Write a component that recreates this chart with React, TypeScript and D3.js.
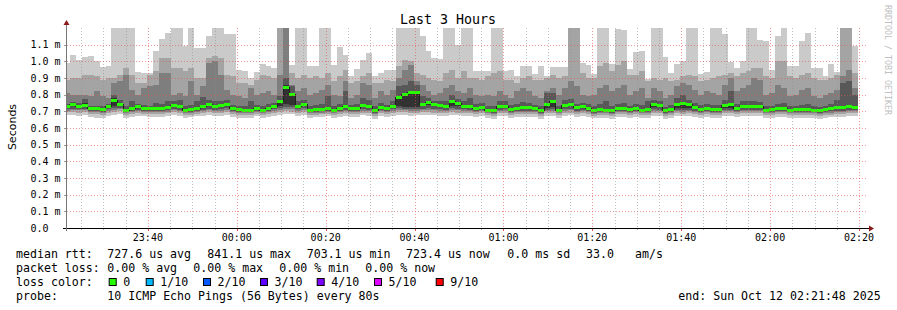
import React from 'react';
import * as d3 from 'd3';

// ---- time range (UTC used so the sandbox timezone does not matter) ----
const START = Date.UTC(2025, 9, 11, 23, 21, 48);
const END = Date.UTC(2025, 9, 12, 2, 21, 48);
const STEP_MS = 80000;
const FIRST_BAR = START - 40000;

// ---- data, in milliseconds ----
const MEDIAN = [.728,.740,.732,.738,.716,.716,.712,.732,.768,.744,.708,.720,.728,.718,.716,.716,.718,.724,.738,.728,
.708,.714,.720,.728,.744,.728,.734,.742,.718,.714,.708,.708,.720,.708,.720,.732,.760,.841,.802,.732,
.740,.708,.714,.714,.718,.708,.720,.728,.720,.720,.738,.728,.706,.726,.720,.732,.784,.800,.812,.812,
.740,.756,.740,.734,.728,.762,.750,.732,.732,.720,.726,.708,.704,.728,.732,.714,.716,.722,.722,.716,
.704,.744,.760,.708,.734,.742,.722,.728,.720,.706,.712,.708,.704,.716,.718,.710,.716,.708,.714,.740,
.738,.704,.714,.740,.750,.744,.726,.714,.718,.714,.714,.734,.742,.720,.728,.732,.728,.728,.708,.712,
.718,.718,.708,.710,.714,.714,.708,.704,.710,.716,.726,.726,.732,.723];

const PING10 = [.99,1.04,1.01,1.025,1.03,1.005,.965,.97,1.2,1.2,1.2,1.2,.935,.93,.93,1.065,1.135,1.17,1.2,1.2,
1.09,1.2,1.08,1.08,1.15,1.2,1.2,1.165,1.165,.95,.94,.90,.935,.985,.97,.96,1.2,1.2,.98,1.2,
1.2,.975,.975,1.2,1.2,.98,1.085,1.04,.915,.955,1.01,1.05,.915,.93,.95,.95,1.2,1.2,1.2,1.2,
1.15,1.06,1.02,1.015,1.2,1.2,1.1,1.2,1.2,.945,.94,.945,1.2,1.2,.945,.95,.915,.97,.97,.925,
.975,.91,.965,.965,.965,1.2,1.2,.99,.98,.925,1.2,1.2,.985,1.195,1.19,.955,1.055,1.06,.895,1.2,
1.2,1.025,.93,.985,1.0,1.2,1.2,.925,.935,1.2,1.2,1.165,.995,.96,1.0,1.2,1.2,1.13,1.12,.95,
1.15,1.2,.975,.975,1.12,1.17,.96,.96,.915,.985,.935,1.2,1.2,1.095];

const PING9 = [.89,.90,.90,.92,.92,.91,.89,.90,.90,.92,.96,.92,.87,.87,.92,.94,1.02,1.02,.96,.96,
.94,.96,.90,.90,1.02,1.03,1.02,.92,.91,.87,.87,.86,.89,.92,.91,.90,1.2,1.2,.93,.90,
.92,.90,.91,.90,.93,.88,.91,.95,.87,.88,.91,.93,.87,.87,.89,.88,.97,1.01,1.00,.93,
.92,.90,.89,.88,.93,.95,.90,.94,.90,.90,.89,.91,.93,.94,.89,.89,.87,.90,.91,.89,
.89,.90,.92,.90,.91,1.2,1.2,.93,.90,.90,.97,.99,.94,.98,1.00,.92,.92,.94,.88,.90,
.89,.90,.88,.89,.91,.92,.91,.88,.89,.90,.91,.92,.93,.91,.93,.94,.96,.96,.91,.90,
1.00,1.00,.91,.90,.92,.93,.90,.89,.89,.90,.92,1.2,1.2,.93];

const PING8 = [.81,.80,.80,.80,.79,.82,.79,.78,.87,.88,.92,.83,.80,.84,.85,.86,.93,.93,.80,.81,
.79,.88,.80,.85,.99,1.00,.92,.83,.80,.79,.78,.84,.80,.81,.82,.80,.92,1.2,.86,.82,
.84,.80,.81,.83,.86,.80,.79,.88,.78,.80,.87,.86,.78,.82,.80,.83,.90,.95,.98,.88,
.86,.82,.80,.81,.84,.86,.82,.81,.84,.80,.79,.80,.79,.82,.80,.78,.82,.84,.82,.79,
.78,.82,.84,.80,.84,.88,.85,.80,.79,.80,.84,.86,.82,.84,.86,.80,.82,.84,.78,.84,
.82,.78,.80,.85,.87,.86,.83,.80,.82,.81,.80,.86,.90,.82,.84,.86,.90,.89,.80,.81,
.86,.84,.79,.80,.83,.84,.79,.78,.80,.81,.83,.91,.95,.84];

const PING7 = [.745,.755,.750,.775,.735,.735,.730,.745,.800,.770,.735,.760,.745,.740,.735,.750,.745,.765,.760,.770,
.730,.740,.760,.785,.770,.760,.765,.770,.740,.735,.730,.760,.740,.730,.745,.750,.790,.900,.850,.760,
.770,.730,.740,.745,.790,.730,.745,.820,.740,.745,.780,.770,.730,.750,.740,.760,.850,.860,.880,.860,
.790,.780,.760,.760,.760,.800,.775,.760,.780,.745,.750,.735,.730,.760,.760,.740,.745,.755,.750,.740,
.730,.810,.810,.735,.770,.775,.745,.750,.745,.730,.745,.760,.735,.745,.750,.735,.745,.740,.760,.770,
.765,.725,.740,.780,.800,.770,.750,.740,.745,.740,.740,.770,.820,.745,.760,.760,.760,.755,.730,.735,
.745,.750,.730,.735,.740,.745,.730,.725,.735,.745,.770,.870,.880,.800];

const PING6 = [.734,.746,.738,.748,.722,.722,.718,.738,.778,.752,.714,.728,.734,.724,.722,.722,.724,.732,.745,.736,
.714,.720,.728,.738,.752,.734,.742,.750,.724,.720,.714,.716,.726,.714,.726,.738,.768,.856,.810,.740,
.748,.714,.720,.720,.726,.714,.726,.736,.726,.726,.746,.734,.712,.732,.726,.738,.790,.806,.818,.818,
.748,.764,.746,.740,.734,.770,.756,.738,.738,.726,.732,.714,.710,.734,.738,.720,.722,.728,.728,.722,
.710,.752,.768,.714,.740,.750,.728,.734,.726,.712,.718,.714,.710,.722,.724,.716,.722,.714,.720,.748,
.744,.710,.720,.746,.758,.750,.732,.720,.724,.720,.720,.740,.750,.726,.734,.738,.734,.734,.714,.718,
.724,.724,.714,.716,.720,.720,.714,.710,.716,.722,.732,.734,.740,.730];

const PING5 = [.722,.732,.726,.730,.710,.710,.706,.724,.735,.736,.702,.714,.722,.712,.710,.710,.712,.716,.728,.720,
.702,.708,.714,.720,.730,.720,.726,.732,.712,.708,.702,.702,.714,.702,.714,.724,.735,.745,.740,.724,
.732,.702,.708,.708,.712,.702,.714,.720,.714,.714,.728,.720,.700,.718,.714,.724,.735,.726,.724,.728,
.730,.736,.730,.726,.720,.735,.730,.724,.724,.714,.718,.702,.698,.720,.724,.708,.710,.714,.714,.710,
.698,.722,.726,.702,.724,.730,.714,.720,.714,.700,.706,.702,.698,.710,.712,.704,.710,.702,.706,.726,
.724,.698,.708,.722,.718,.722,.716,.708,.712,.708,.708,.722,.722,.714,.720,.722,.720,.720,.702,.706,
.712,.712,.702,.704,.708,.708,.702,.698,.704,.710,.716,.716,.720,.716];

const PING4 = [.712,.716,.714,.716,.702,.703,.698,.712,.720,.722,.695,.704,.710,.704,.702,.701,.703,.706,.716,.710,
.694,.699,.705,.709,.716,.709,.714,.718,.703,.699,.694,.695,.704,.694,.704,.712,.720,.728,.724,.712,
.718,.694,.699,.700,.703,.694,.704,.708,.704,.703,.714,.709,.692,.707,.704,.712,.720,.714,.712,.714,
.716,.720,.716,.713,.708,.720,.716,.712,.711,.704,.707,.694,.690,.708,.712,.699,.701,.704,.704,.701,
.690,.710,.714,.694,.712,.716,.704,.708,.704,.692,.697,.694,.690,.701,.703,.696,.701,.694,.697,.712,
.711,.690,.699,.710,.707,.710,.705,.699,.703,.699,.699,.710,.710,.704,.708,.710,.708,.708,.694,.697,
.702,.702,.694,.695,.699,.699,.694,.690,.695,.700,.705,.705,.708,.708];

const PING3 = [.705,.708,.706,.708,.696,.697,.692,.704,.710,.712,.689,.697,.702,.697,.696,.694,.697,.699,.707,.703,
.688,.692,.698,.701,.707,.701,.705,.708,.697,.692,.688,.689,.697,.688,.697,.704,.710,.716,.712,.704,
.708,.688,.692,.693,.697,.688,.697,.700,.697,.696,.705,.701,.686,.700,.697,.704,.710,.706,.704,.705,
.706,.709,.706,.704,.700,.709,.706,.703,.703,.697,.700,.688,.684,.700,.703,.692,.694,.697,.697,.694,
.684,.701,.704,.688,.703,.706,.697,.700,.697,.686,.691,.688,.684,.694,.696,.690,.694,.688,.691,.703,
.702,.684,.692,.701,.699,.701,.697,.692,.696,.692,.692,.701,.701,.697,.700,.701,.700,.700,.688,.691,
.695,.695,.688,.689,.692,.692,.688,.684,.689,.693,.697,.697,.700,.700];

const PING2 = [.694,.696,.692,.697,.686,.685,.680,.692,.697,.700,.678,.686,.690,.686,.684,.683,.686,.688,.695,.690,
.676,.680,.687,.689,.694,.689,.692,.695,.685,.680,.676,.678,.686,.677,.686,.692,.698,.702,.699,.692,
.695,.677,.680,.682,.686,.676,.685,.688,.686,.684,.693,.689,.674,.688,.685,.692,.697,.694,.692,.693,
.694,.697,.693,.692,.688,.696,.693,.691,.691,.685,.688,.676,.672,.688,.690,.680,.682,.685,.685,.682,
.672,.689,.691,.676,.690,.693,.685,.688,.685,.674,.679,.676,.672,.682,.684,.678,.682,.676,.679,.690,
.689,.672,.680,.688,.687,.688,.685,.680,.684,.680,.680,.688,.688,.685,.688,.689,.688,.688,.676,.679,
.683,.683,.676,.677,.680,.680,.676,.672,.677,.681,.685,.685,.688,.688];

const PING1 = [.676,.680,.672,.678,.668,.662,.660,.674,.680,.682,.662,.668,.672,.670,.664,.666,.668,.670,.678,.672,
.660,.664,.670,.672,.676,.670,.674,.678,.668,.662,.658,.662,.670,.660,.668,.674,.680,.684,.682,.674,
.678,.660,.664,.666,.670,.658,.668,.672,.668,.666,.676,.672,.656,.670,.668,.674,.680,.676,.674,.676,
.678,.680,.676,.674,.670,.678,.676,.674,.674,.668,.670,.660,.656,.670,.672,.662,.664,.668,.668,.664,
.654,.672,.674,.660,.672,.676,.668,.670,.668,.658,.662,.660,.656,.664,.666,.660,.664,.658,.662,.672,
.672,.656,.662,.670,.670,.670,.668,.662,.666,.662,.662,.670,.670,.668,.670,.672,.670,.670,.658,.662,
.666,.666,.658,.660,.662,.662,.658,.654,.660,.664,.668,.668,.670,.670];

const PINGS = [PING1, PING2, PING3, PING4, PING5, PING6, PING7, PING8, PING9, PING10];
const SMOKE_COLORS = ['#cacaca', '#a4a4a4', '#7e7e7e', '#585858', '#323232'];

const Y_TICKS = [0, 0.1, 0.2, 0.3, 0.4, 0.5, 0.6, 0.7, 0.8, 0.9, 1.0, 1.1];
const Y_MAX = 1.2;

const TITLE = 'Last 3 Hours';
const Y_LABEL = 'Seconds';
const WATERMARK = 'RRDTOOL / TOBI OETIKER';

const MEDIAN_ROW = ['median rtt:', '727.6 us avg', '841.1 us max', '703.1 us min', '723.4 us now', '0.0 ms sd', '33.0', 'am/s'];
const MEDIAN_X = [16, 107.3, 207.3, 306.7, 406, 507.3, 586, 635];
const LOSS_ROW = ['packet loss:', '0.00 % avg', '0.00 % max', '0.00 % min', '0.00 % now'];
const LOSS_X = [16, 107.3, 193.3, 279.3, 365.3];
const LOSS_LABELS = ['0', '1/10', '2/10', '3/10', '4/10', '5/10', '9/10'];
const LOSS_COLORS = ['#26ff00', '#00b8ff', '#0059ff', '#5e00ff', '#7e00ff', '#dd00ff', '#ff0000'];
const SWATCH_X = [108.7, 145.7, 203, 260, 316.7, 374, 435.7];
const PROBE_TEXT = '10 ICMP Echo Pings (56 Bytes) every 80s';
const END_TEXT = 'end: Sun Oct 12 02:21:48 2025';

const W = 897, H = 310;
const L = 67, R = 867, T = 28, B = 228;
const MONO = '"DejaVu Sans Mono", monospace';

export default function App() {
  const x = d3.scaleUtc().domain([START, END]).range([L, R]);
  const y = d3.scaleLinear().domain([0, Y_MAX]).range([B, T]);
  const n = MEDIAN.length;
  const idx = d3.range(n + 1);
  const at = (arr: number[], i: number) => arr[Math.min(i, n - 1)];
  const bx = (i: number) => x(FIRST_BAR + i * STEP_MS);

  const bands = SMOKE_COLORS.map((c, k) => {
    const lo = PINGS[k], hi = PINGS[9 - k];
    const d = d3.area<number>()
      .x(bx)
      .y0(i => y(at(lo, i)))
      .y1(i => y(at(hi, i)))
      .curve(d3.curveStepAfter)(idx) as string;
    return <path key={k} d={d} fill={c} shapeRendering="crispEdges" />;
  });

  const medLine = d3.line<number>().x(bx).y(i => y(at(MEDIAN, i))).curve(d3.curveStepAfter)(idx) as string;
  const medBand = d3.area<number>().x(bx)
    .y0(i => y(at(MEDIAN, i)) + 1.5)
    .y1(i => y(at(MEDIAN, i)) - 1.5)
    .curve(d3.curveStepAfter)(idx) as string;

  const major = d3.utcMinute.every(20)!.range(new Date(START), new Date(END));
  const minor = d3.utcMinute.every(5)!.range(new Date(START), new Date(END));
  const fmt = d3.utcFormat('%H:%M');
  const ylab = (v: number) => (v === 0 ? '0.0' : `${v.toFixed(1)} m`);

  return (
    <svg width={W} height={H} style={{ position: 'absolute', left: 0, top: 0, background: '#fff' }}
      xmlns="http://www.w3.org/2000/svg">
      <rect x={0} y={0} width={W} height={H} fill="#fff" />
      <defs>
        <clipPath id="plot"><rect x={L} y={T} width={R - L} height={B - T} /></clipPath>
      </defs>
      <g clipPath="url(#plot)">
        {bands}
        <path d={medLine} fill="none" stroke="#202020" strokeWidth={1} shapeRendering="crispEdges" />
        <path d={medBand} fill="#26ff00" shapeRendering="crispEdges" />
      </g>
      {/* grid */}
      <g>
        {minor.filter(t => +t % 1200000 !== 0).map((t, i) => (
          <g key={'mi' + i}>
            <line x1={Math.round(x(t)) + 0.5} x2={Math.round(x(t)) + 0.5} y1={T} y2={B}
              stroke="rgba(140,140,140,0.55)" strokeDasharray="1,2" />
            <line x1={Math.round(x(t)) + 0.5} x2={Math.round(x(t)) + 0.5} y1={B} y2={B + 2} stroke="#aaa" />
          </g>
        ))}
        {major.map((t, i) => (
          <g key={'ma' + i}>
            <line x1={Math.round(x(t)) + 0.5} x2={Math.round(x(t)) + 0.5} y1={T} y2={B}
              stroke="rgba(230,80,80,0.6)" strokeDasharray="1,2" />
            <line x1={Math.round(x(t)) + 0.5} x2={Math.round(x(t)) + 0.5} y1={B} y2={B + 3} stroke="#e05050" />
            <text x={x(t)} y={241} fontFamily={MONO} fontSize={10} textAnchor="middle" fill="#000">{fmt(t)}</text>
          </g>
        ))}
        {Y_TICKS.map((v, i) => (
          <g key={'y' + i}>
            {v > 0 && (
              <line x1={L} x2={R} y1={Math.round(y(v)) + 0.5} y2={Math.round(y(v)) + 0.5}
                stroke="rgba(230,80,80,0.6)" strokeDasharray="1,2" />
            )}
            <line x1={L - 3} x2={L} y1={Math.round(y(v)) + 0.5} y2={Math.round(y(v)) + 0.5} stroke="#999" />
            <text x={30.5} y={y(v) + 3.6} fontFamily={MONO} fontSize={10} fill="#000"
              style={{ whiteSpace: 'pre' }}>{ylab(v)}</text>
          </g>
        ))}
      </g>
      {/* axes */}
      <line x1={L - 4} x2={R + 3} y1={B + 0.5} y2={B + 0.5} stroke="#000" />
      <line x1={L - 0.5} x2={L - 0.5} y1={B + 3} y2={T - 4} stroke="#777" />
      <path d={`M${R + 2},${B - 2.5} L${R + 7},${B + 0.5} L${R + 2},${B + 3.5} Z`} fill="#8b1a1a" />
      <path d={`M${L - 3.5},${T - 3} L${L - 0.5},${T - 8} L${L + 2.5},${T - 3} Z`} fill="#8b1a1a" />

      <text x={448} y={24} fontFamily={MONO} fontSize={13.3} textAnchor="middle" fill="#000">{TITLE}</text>
      <text transform={`translate(15.5,127) rotate(-90)`} fontFamily='"DejaVu Sans", sans-serif' fontSize={11}
        textAnchor="middle" fill="#000">{Y_LABEL}</text>
      <text transform={`translate(884.5,5) rotate(90)`} fontFamily={MONO} fontSize={8.3} fill="#c0c0c0">{WATERMARK}</text>

      {/* legend */}
      <g fontFamily={MONO} fontSize={11.6} fill="#000" style={{ whiteSpace: 'pre' }}>
        {MEDIAN_ROW.map((s, i) => <text key={'m' + i} x={MEDIAN_X[i]} y={258}>{s}</text>)}
        {LOSS_ROW.map((s, i) => <text key={'l' + i} x={LOSS_X[i]} y={272}>{s}</text>)}
        <text x={16} y={286}>loss color:</text>
        {LOSS_LABELS.map((s, i) => (
          <g key={'c' + i}>
            <rect x={SWATCH_X[i] + 0.5} y={278.5} width={7} height={7} fill={LOSS_COLORS[i]} stroke="#000" />
            <text x={SWATCH_X[i] + 14.5} y={286}>{s}</text>
          </g>
        ))}
        <text x={16} y={300}>probe:</text>
        <text x={107.3} y={300}>{PROBE_TEXT}</text>
        <text x={678.3} y={300}>{END_TEXT}</text>
      </g>
    </svg>
  );
}
